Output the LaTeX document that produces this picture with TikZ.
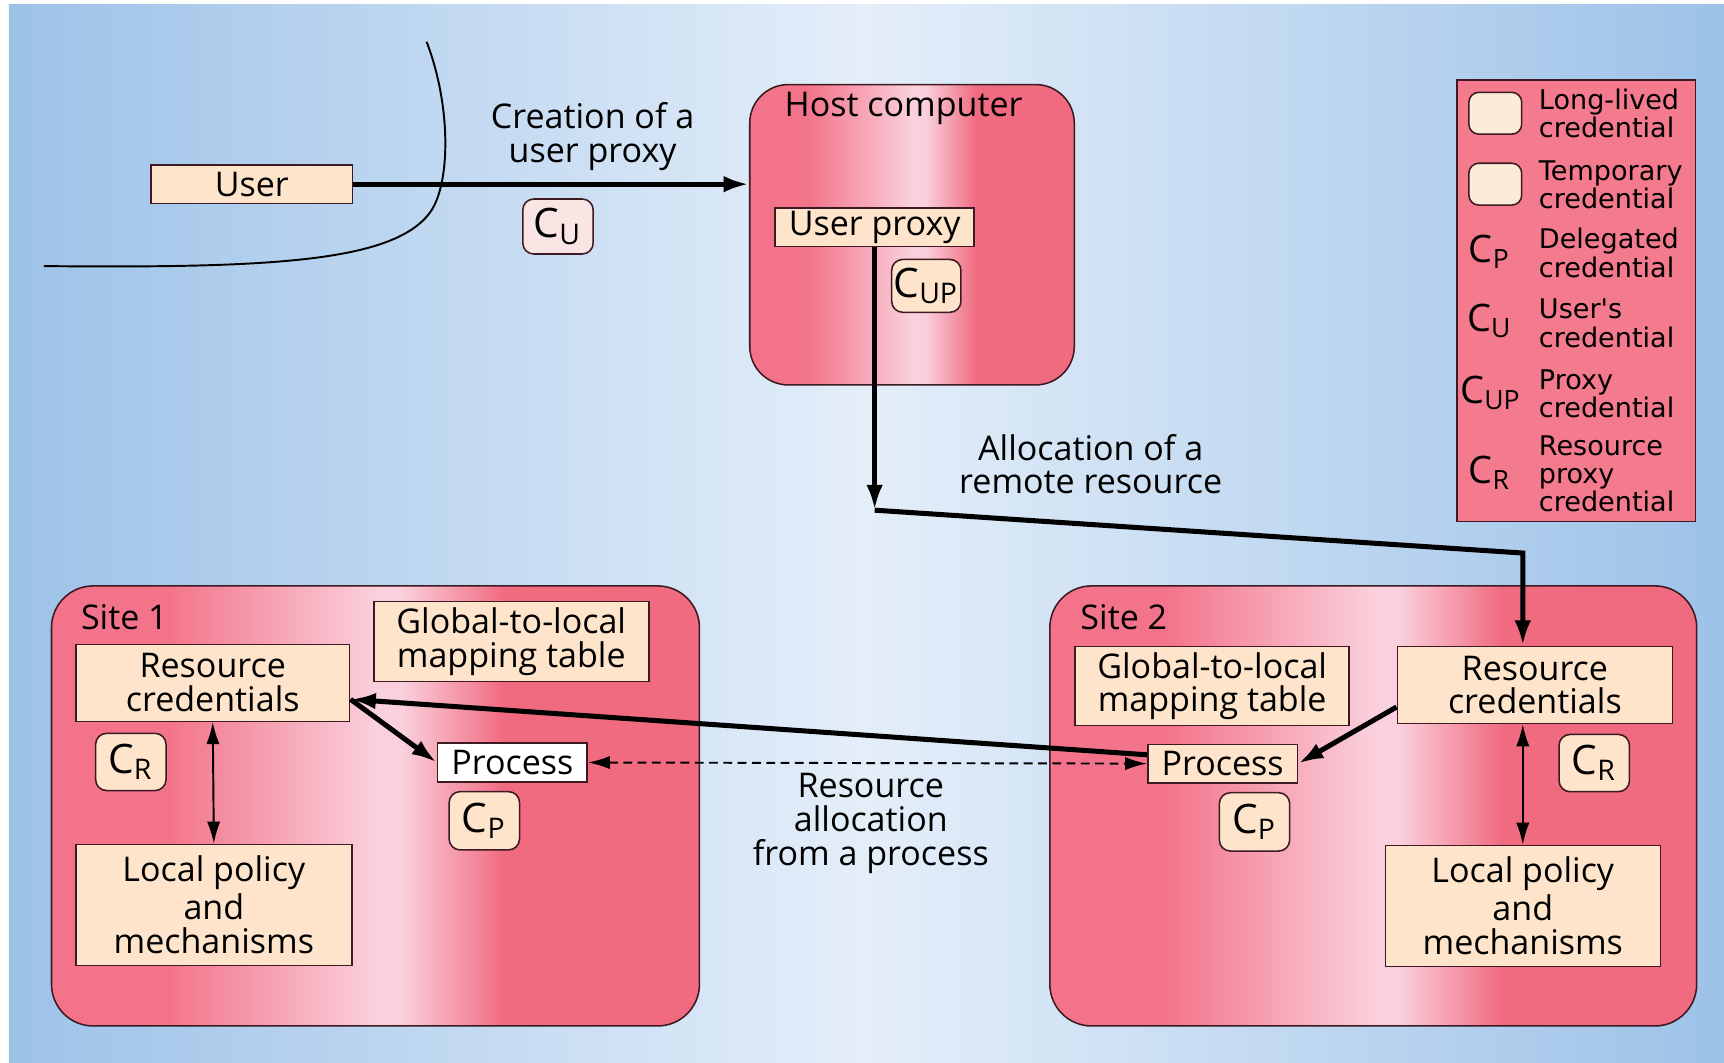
\documentclass[tikz,border=0pt]{standalone}
\usepackage{fontspec}
\setmainfont{Open Sans}
\newfontfamily\legendfont{DejaVu Sans}
\usetikzlibrary{arrows.meta}

\definecolor{bgside}{RGB}{157,194,232}
\definecolor{bgmid}{RGB}{228,238,249}
\definecolor{siteedge}{RGB}{243,116,138}
\definecolor{sitedeep}{RGB}{240,106,128}
\definecolor{sitelight}{RGB}{250,208,220}
\definecolor{legendpink}{RGB}{244,122,141}
\definecolor{peach}{RGB}{253,228,202}
\definecolor{paleapricot}{RGB}{253,235,218}
\definecolor{credpink}{RGB}{251,228,228}
\definecolor{edge}{RGB}{60,25,35}

\pgfdeclarehorizontalshading{sitefill}{100bp}{color(0bp)=(siteedge); color(25bp)=(siteedge); color(34bp)=(siteedge); color(50bp)=(sitelight); color(52bp)=(sitelight); color(60bp)=(sitedeep); color(75bp)=(sitedeep); color(100bp)=(sitedeep)}

\newcommand{\credsym}[1]{C\textsubscript{#1}}

\begin{document}
\begin{tikzpicture}[x=0.01cm, y=-0.01cm,
    txt/.style = {font=\fontsize{8.8}{8.7}\selectfont, align=center},
    box/.style = {draw=edge, fill=peach, inner sep=0pt, txt},
    cred/.style = {draw=edge, fill=peach, rounded corners=0.1cm, inner sep=0pt,
                   minimum width=0.64cm, minimum height=0.52cm, font=\fontsize{10.5}{10.5}\selectfont},
    site/.style = {draw=edge, shade, shading=sitefill, rounded corners=0.38cm, inner sep=0pt},
    legbox/.style = {draw=edge, fill=paleapricot, rounded corners=0.09cm, inner sep=0pt,
                     minimum width=0.48cm, minimum height=0.38cm},
    legtxt/.style = {font=\legendfont\fontsize{7}{7.3}\selectfont, align=left, anchor=west, inner sep=0pt},
    csym/.style = {inner sep=0pt, font=\fontsize{9.8}{10}\selectfont},
    arrow/.style = {line width=1.3pt, -{Latex[length=0.23cm,width=0.15cm]}},
    both/.style = {line width=0.5pt, {Latex[length=0.2cm,width=0.12cm]}-{Latex[length=0.2cm,width=0.12cm]}}]

    \useasboundingbox (0,0) rectangle (1568,966);
    \shade[left color=bgside, right color=bgside, middle color=bgmid] (8,4.5) rectangle (1568,966);

    \draw[line width=0.5pt] (388,38) .. controls (410,95) and (410,165) .. (392,192)
        .. controls (360,238) and (250,244) .. (40,242);

    \node[box, minimum width=1.83cm, minimum height=0.35cm] (user) at (229,167.5) {User};
    \node[cred, fill=credpink, minimum height=0.5cm] (cu) at (507.5,206) {\credsym{U}};
    \node[txt] (creation) at (539,124) {Creation of a\\user proxy};

    \node[site, minimum width=2.95cm, minimum height=2.73cm, rounded corners=0.35cm] (host) at (829.5,213.5) {};
    \node[txt, anchor=west, inner sep=0pt] (hostlbl) at (713,99) {Host computer};
    \node[box, minimum width=1.81cm, minimum height=0.35cm] (proxy) at (795.5,206.5) {User proxy};
    \node[cred, minimum width=0.63cm, minimum height=0.48cm] (cup) at (842.5,260) {\credsym{UP}};
    \node[txt] (allocation) at (992,422) {Allocation of a\\remote resource};

    \node[draw=edge, fill=legendpink, minimum width=2.17cm, minimum height=4.01cm, inner sep=0pt] (legend) at (1433.5,273.5) {};
    \node[legbox] (longlived) at (1360,103) {};
    \node[legtxt] (longlivedtxt) at (1399,103) {Long-lived\\credential};
    \node[legbox] (temporary) at (1360,167.5) {};
    \node[legtxt] (temporarytxt) at (1399,168) {Temporary\\credential};
    \node[csym] (legcp) at (1355,229) {\credsym{P}};
    \node[legtxt] (legcptxt) at (1399,230) {Delegated\\credential};
    \node[csym] (legcu) at (1355,292) {\credsym{U}};
    \node[legtxt] (legcutxt) at (1399,294) {User's\\credential};
    \node[csym] (legcup) at (1356,357) {\credsym{UP}};
    \node[legtxt] (legcuptxt) at (1399,358) {Proxy\\credential};
    \node[csym] (legcr) at (1355,430) {\credsym{R}};
    \node[legtxt] (legcrtxt) at (1399,431) {Resource\\proxy\\credential};

    \node[site, minimum width=5.89cm, minimum height=4cm] (site1) at (341.5,733) {};
    \node[txt, anchor=west, inner sep=0pt] (site1lbl) at (73,561) {Site 1};
    \node[box, minimum width=2.5cm, minimum height=0.73cm] (gl1) at (465,583.5) {Global-to-local\\mapping table};
    \node[box, minimum width=2.49cm, minimum height=0.7cm] (rc1) at (193.5,621) {Resource\\credentials};
    \node[cred] (cr1) at (119,693) {\credsym{R}};
    \node[box, minimum width=2.51cm, minimum height=1.1cm] (lp1) at (194.5,823) {Local policy\\and\\mechanisms};
    \node[box, fill=white, minimum width=1.36cm, minimum height=0.35cm] (proc1) at (466,693.5) {Process};
    \node[cred, minimum height=0.53cm] (cp1) at (440.5,746.5) {\credsym{P}};

    \node[site, minimum width=5.88cm, minimum height=4cm] (site2) at (1249,733) {};
    \node[txt, anchor=west, inner sep=0pt] (site2lbl) at (982,561) {Site 2};
    \node[box, minimum width=2.49cm, minimum height=0.72cm] (gl2) at (1102.5,624) {Global-to-local\\mapping table};
    \node[box, minimum width=2.5cm, minimum height=0.7cm] (rc2) at (1396,623) {Resource\\credentials};
    \node[box, minimum width=1.36cm, minimum height=0.35cm] (proc2) at (1112,694.5) {Process};
    \node[cred, minimum height=0.53cm] (cp2) at (1141,747.5) {\credsym{P}};
    \node[cred] (cr2) at (1450,694) {\credsym{R}};
    \node[box, minimum width=2.5cm, minimum height=1.1cm] (lp2) at (1385,824) {Local policy\\and\\mechanisms};

    \node[txt] (fromproc) at (792,749) {Resource\\allocation\\from a process};

    \coordinate (bend) at (795.5,464);
    \coordinate (turn) at (1385,503);

    \draw[arrow] (user.east) -- (user.east -| host.west);
    \draw[arrow] (proxy.south) -- (bend);
    \draw[arrow] (bend) -- (turn) -- (turn |- rc2.north);
    \draw[both] (rc1.south) -- (lp1.north);
    \draw[both] (lp2.north |- rc2.south) -- (lp2.north);
    \draw[arrow] ([yshift=-0.15cm]rc1.east) -- (proc1.west);
    \draw[arrow] ([yshift=0.08cm]proc2.west) -- ([yshift=-0.15cm]rc1.east);
    \draw[arrow] ([yshift=-0.2cm]rc2.west) -- (proc2.east);
    \draw[line width=0.5pt, dash pattern=on 0.08cm off 0.05cm,
          {Latex[length=0.2cm,width=0.12cm]}-{Latex[length=0.2cm,width=0.12cm]}] (proc1.east) -- (proc2.west);
\end{tikzpicture}
\end{document}
